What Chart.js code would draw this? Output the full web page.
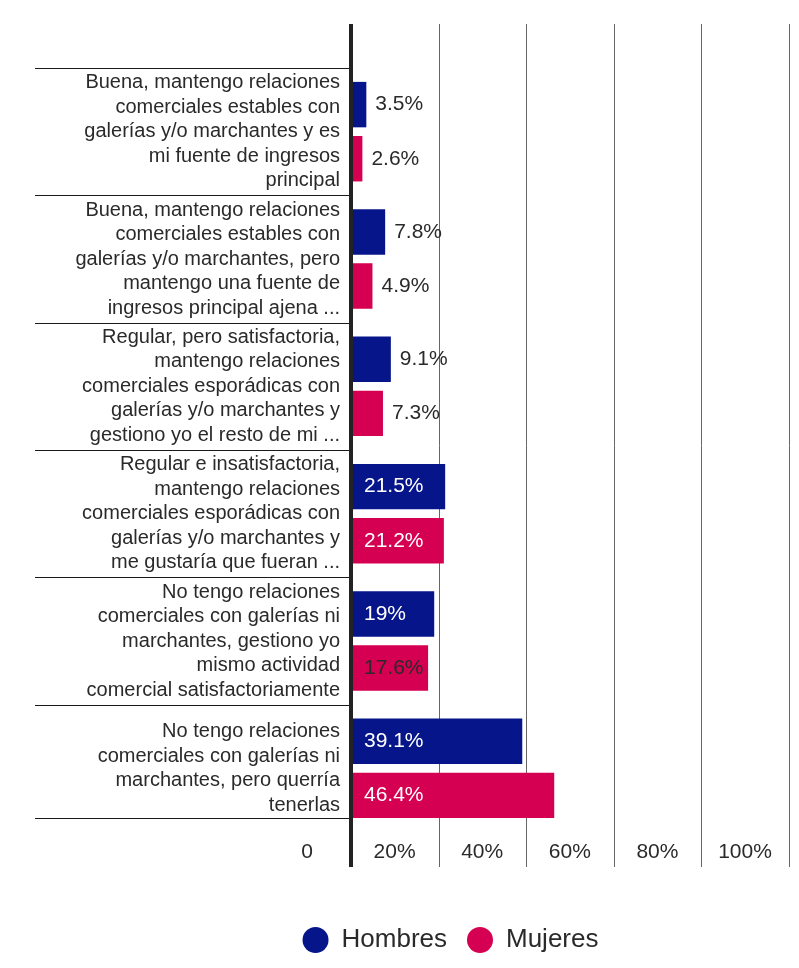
<!DOCTYPE html>
<html>
<head>
<meta charset="utf-8">
<script src="https://cdn.jsdelivr.net/npm/chart.js@4/dist/chart.umd.min.js"></script>
<style>
  html, body { margin: 0; padding: 0; background: #fff; overflow: hidden; }
  #wrap { width: 799px; height: 968px; position: relative; }
</style>
</head>
<body>
<div id="wrap"><canvas id="chart"></canvas></div>
<script>
// Categories (multi-line labels as shown)
const categories = [
    ['Buena, mantengo relaciones', 'comerciales estables con', 'galerías y/o marchantes y es', 'mi fuente de ingresos', 'principal'],
    ['Buena, mantengo relaciones', 'comerciales estables con', 'galerías y/o marchantes, pero', 'mantengo una fuente de', 'ingresos principal ajena ...'],
    ['Regular, pero satisfactoria,', 'mantengo relaciones', 'comerciales esporádicas con', 'galerías y/o marchantes y', 'gestiono yo el resto de mi ...'],
    ['Regular e insatisfactoria,', 'mantengo relaciones', 'comerciales esporádicas con', 'galerías y/o marchantes y', 'me gustaría que fueran ...'],
    ['No tengo relaciones', 'comerciales con galerías ni', 'marchantes, gestiono yo', 'mismo actividad', 'comercial satisfactoriamente'],
    ['No tengo relaciones', 'comerciales con galerías ni', 'marchantes, pero querría', 'tenerlas']
];
const hombres = [3.5, 7.8, 9.1, 21.5, 19, 39.1];
const mujeres = [2.6, 4.9, 7.3, 21.2, 17.6, 46.4];
const xTicks = [0, 20, 40, 60, 80, 100];

const FONT = '"Liberation Sans", Arial, Helvetica, sans-serif';
const TEXT = '#2a2a2a';

// Grid lines, separators, axis line and value labels
const decorPlugin = {
    id: 'decor',
    afterLayout(chart) {
        // legend sits off-centre in the original
        chart.legend.left += 56;
        chart.legend.right += 56;
    },
    beforeDatasetsDraw(chart) {
        const ctx = chart.ctx;
        const x = chart.scales.x, y = chart.scales.y;
        const top = 24, bottom = 867;
        ctx.save();
        ctx.strokeStyle = '#666';
        ctx.lineWidth = 1;
        xTicks.slice(1).forEach(t => {
            const px = Math.round(x.getPixelForValue(t)) + 0.5;
            ctx.beginPath();
            ctx.moveTo(px, top);
            ctx.lineTo(px, bottom);
            ctx.stroke();
        });
        // category separators in the label area
        const step = y.getPixelForValue(1) - y.getPixelForValue(0);
        const seps = categories.map((c, i) => y.getPixelForValue(i) - step / 2);
        const last = chart.getDatasetMeta(1).data[categories.length - 1];
        seps.push(last.y + last.height / 2);
        ctx.strokeStyle = '#1a1a1a';
        seps.forEach(s => {
            const py = Math.round(s) + 0.5;
            ctx.beginPath();
            ctx.moveTo(35, py);
            ctx.lineTo(x.getPixelForValue(0), py);
            ctx.stroke();
        });
        ctx.restore();
    },
    afterDatasetsDraw(chart) {
        const ctx = chart.ctx;
        const x = chart.scales.x;
        const x0 = x.getPixelForValue(0);
        ctx.save();
        ctx.fillStyle = '#222';
        ctx.fillRect(x0 - 2, 24, 4, 867 - 24);
        ctx.font = '21px ' + FONT;
        ctx.textBaseline = 'middle';
        ctx.textAlign = 'left';
        chart.data.datasets.forEach((ds, di) => {
            chart.getDatasetMeta(di).data.forEach((bar, i) => {
                const v = ds.data[i];
                const txt = v + '%';
                if (v >= 15) {
                    ctx.fillStyle = ds.labelColors[i];
                    ctx.fillText(txt, x0 + 13, bar.y);
                } else {
                    ctx.fillStyle = TEXT;
                    ctx.fillText(txt, bar.x + 9, bar.y);
                }
            });
        });
        ctx.restore();
    }
};

new Chart(document.getElementById('chart'), {
    type: 'bar',
    data: {
        labels: categories,
        datasets: [
            {
                label: 'Hombres',
                data: hombres,
                backgroundColor: '#06168A',
                labelColors: ['#fff', '#fff', '#fff', '#fff', '#fff', '#fff'],
                barPercentage: 0.84,
                categoryPercentage: 0.85
            },
            {
                label: 'Mujeres',
                data: mujeres,
                backgroundColor: '#D50051',
                labelColors: ['#fff', '#fff', '#fff', '#fff', TEXT, '#fff'],
                barPercentage: 0.84,
                categoryPercentage: 0.85
            }
        ]
    },
    options: {
        indexAxis: 'y',
        responsive: true,
        maintainAspectRatio: false,
        animation: false,
        layout: { padding: { top: 68, right: 10, bottom: 5, left: 0 } },
        plugins: {
            tooltip: { enabled: false },
            legend: {
                position: 'bottom',
                labels: {
                    usePointStyle: true,
                    pointStyle: 'circle',
                    boxHeight: 18.4,
                    pointStyleWidth: 26,
                    padding: 20,
                    color: TEXT,
                    font: { family: FONT, size: 26 }
                }
            }
        },
        scales: {
            x: {
                min: 0,
                max: 100,
                ticks: {
                    stepSize: 20,
                    labelOffset: -44,
                    padding: 8,
                    color: TEXT,
                    font: { family: FONT, size: 21 },
                    callback: v => v === 0 ? '0' : v + '%'
                },
                grid: { display: false, drawTicks: false },
                border: { display: false },
                afterFit(scale) {
                    scale.height = 75;
                    scale.paddingLeft = 0;
                    scale.paddingRight = 0;
                }
            },
            y: {
                ticks: {
                    padding: 11,
                    color: TEXT,
                    font: { family: FONT, size: 20, lineHeight: 1.225 }
                },
                grid: { display: false, drawTicks: false },
                border: { display: false },
                afterFit(scale) {
                    scale.width = 351;
                }
            }
        }
    },
    plugins: [decorPlugin]
});
</script>
</body>
</html>
